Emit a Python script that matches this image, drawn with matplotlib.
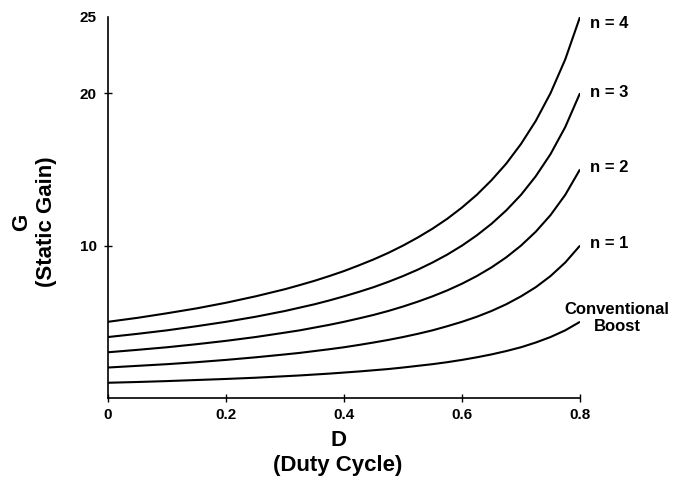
import matplotlib
matplotlib.use("Agg")
import matplotlib.pyplot as plt

plt.rcParams['font.family'] = ['Liberation Sans', 'DejaVu Sans']

# Duty cycle sample points
D = [0.0, 0.05, 0.10, 0.15, 0.20, 0.25,
     0.300, 0.325, 0.350, 0.375, 0.400, 0.425, 0.450, 0.475, 0.500, 0.525,
     0.550, 0.575, 0.600, 0.625, 0.650, 0.675, 0.700, 0.725, 0.750, 0.775, 0.800]

# Static gain
G_conv = [1.00, 1.05, 1.11, 1.18, 1.25, 1.33,
          1.43, 1.48, 1.54, 1.60, 1.67, 1.74, 1.82, 1.90, 2.00, 2.11,
          2.22, 2.35, 2.50, 2.67, 2.86, 3.08, 3.33, 3.64, 4.00, 4.44, 5.00]
G_n1 = [2.00, 2.11, 2.22, 2.35, 2.50, 2.67,
        2.86, 2.96, 3.08, 3.20, 3.33, 3.48, 3.64, 3.81, 4.00, 4.21,
        4.44, 4.71, 5.00, 5.33, 5.71, 6.15, 6.67, 7.27, 8.00, 8.89, 10.00]
G_n2 = [3.00, 3.16, 3.33, 3.53, 3.75, 4.00,
        4.29, 4.44, 4.62, 4.80, 5.00, 5.22, 5.45, 5.71, 6.00, 6.32,
        6.67, 7.06, 7.50, 8.00, 8.57, 9.23, 10.00, 10.91, 12.00, 13.33, 15.00]
G_n3 = [4.00, 4.21, 4.44, 4.71, 5.00, 5.33,
        5.71, 5.93, 6.15, 6.40, 6.67, 6.96, 7.27, 7.62, 8.00, 8.42,
        8.89, 9.41, 10.00, 10.67, 11.43, 12.31, 13.33, 14.55, 16.00, 17.78, 20.00]
G_n4 = [5.00, 5.26, 5.56, 5.88, 6.25, 6.67,
        7.14, 7.41, 7.69, 8.00, 8.33, 8.70, 9.09, 9.52, 10.00, 10.53,
        11.11, 11.76, 12.50, 13.33, 14.29, 15.38, 16.67, 18.18, 20.00, 22.22, 25.00]

series = [G_conv, G_n1, G_n2, G_n3, G_n4]
labels = ["Conventional\nBoost", "n = 1", "n = 2", "n = 3", "n = 4"]

x_ticks = [0, 0.2, 0.4, 0.6, 0.8]
x_ticklabels = ["0", "0.2", "0.4", "0.6", "0.8"]
y_ticks = [10, 20, 25]
y_ticklabels = ["10", "20", "25"]

W, H = 687, 487
fig = plt.figure(figsize=(W / 100, H / 100), dpi=100)
ax = fig.add_axes([108 / W, 1 - 398 / H, 472 / W, 381 / H])

for s in series:
    ax.plot(D, s, color='black', lw=1.5, solid_capstyle='butt', solid_joinstyle='round')

ax.set_xlim(0, 0.8)
ax.set_ylim(0, 25)

for sp in ['top', 'right']:
    ax.spines[sp].set_visible(False)
for sp in ['left', 'bottom']:
    ax.spines[sp].set_linewidth(1.2)

ax.set_xticks(x_ticks)
ax.set_xticklabels(x_ticklabels, fontsize=11, fontweight='bold')
ax.set_yticks(y_ticks)
ax.set_yticklabels(y_ticklabels, fontsize=11, fontweight='bold')
ax.tick_params(axis='both', direction='inout', length=6, width=1.0)
ax.tick_params(axis='x', pad=4)
ax.tick_params(axis='y', pad=5)
# no tick mark at the top of the y axis
ax.yaxis.get_major_ticks()[2].tick1line.set_visible(False)

# curve labels
lab_x = 0.817
fs_lab = 12
ax.text(lab_x, 24.6, labels[4], fontsize=fs_lab, fontweight='bold', va='center', ha='left')
ax.text(lab_x, G_n3[-1] + 0.05, labels[3], fontsize=fs_lab, fontweight='bold', va='center', ha='left')
ax.text(lab_x, G_n2[-1] + 0.1, labels[2], fontsize=fs_lab, fontweight='bold', va='center', ha='left')
ax.text(lab_x, G_n1[-1] + 0.15, labels[1], fontsize=fs_lab, fontweight='bold', va='center', ha='left')
ax.text(0.8627, 5.25, labels[0], fontsize=fs_lab, fontweight='bold', va='center', ha='center',
        linespacing=1.15)
for t in ax.texts:
    t.set_clip_on(False)

# axis titles
fig.text(338 / W, 1 - 453 / H, "D\n(Duty Cycle)", fontsize=16, fontweight='bold',
         ha='center', va='center', linespacing=1.2)
fig.text(34 / W, 1 - 222 / H, "G\n(Static Gain)", fontsize=16, fontweight='bold',
         ha='center', va='center', rotation=90, linespacing=1.2)

fig.savefig("out.png", dpi=100)
